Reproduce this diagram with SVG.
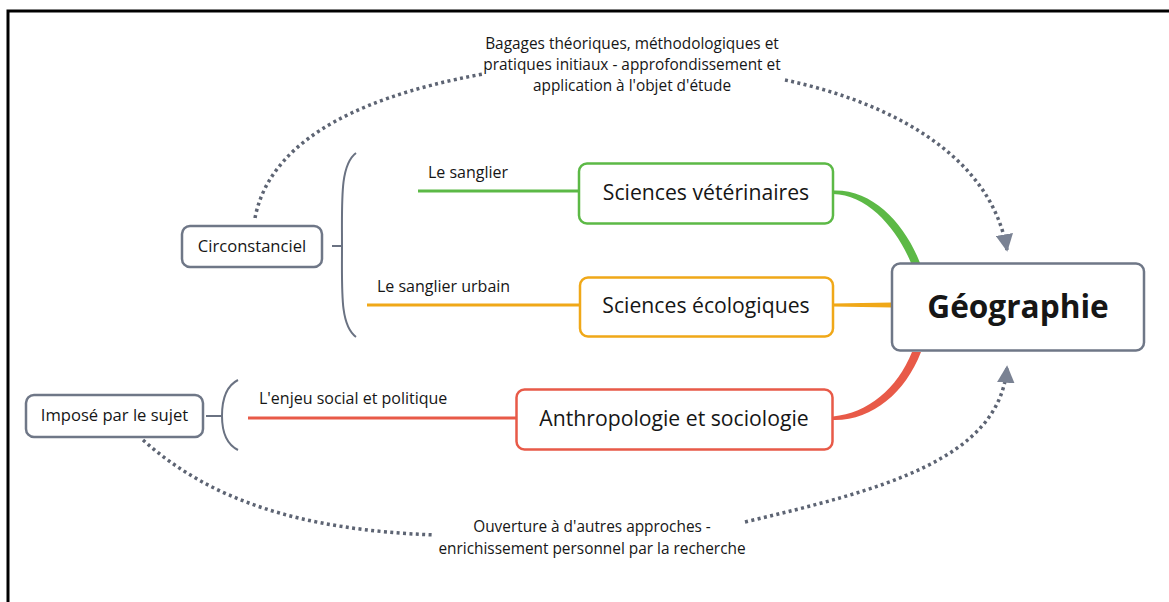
<svg xmlns="http://www.w3.org/2000/svg" width="1169" height="602" viewBox="0 0 1169 602">
<defs>
<style>
.t{font-family:"Open Sans","Liberation Sans",sans-serif;fill:#161616}
.lbl{font-size:15.4px}
.br{font-size:16px}
.sm{font-size:16.6px}
.big{font-size:21.2px}
.box{fill:#fff;stroke-width:2.5}
.gray{stroke:#6f7787}
.dot{fill:none;stroke:#5d6473;stroke-width:3.5;stroke-dasharray:3 3.4}
.brace{fill:none;stroke:#6a7282;stroke-width:2}
</style>
<marker id="arr" viewBox="0 0 10 10" refX="9" refY="5" markerWidth="5" markerHeight="5" orient="auto" markerUnits="strokeWidth">
<path d="M0,0 L10,5 L0,10 Z" fill="#7a8293"/>
</marker>
</defs>
<rect x="0" y="0" width="1169" height="602" fill="#fff"/>
<path d="M8,602 V11 H1169" fill="none" stroke="#000" stroke-width="3"/>

<g id="connectors">
<path d="M418,191 H580" stroke="#5cb946" stroke-width="3" fill="none"/>
<path d="M367,305 H581" stroke="#f0a818" stroke-width="3" fill="none"/>
<path d="M248,418 H516" stroke="#e85a48" stroke-width="3" fill="none"/>
<path d="M833,190.5 C873,189 905,224 920,263 L911,263 C897,229 868,194.5 833,194 Z" fill="#5cb946"/>
<path d="M833,303.5 L892,302.5 L892,307.5 L833,306.5 Z" fill="#f0a818"/>
<path d="M833,416.5 C868,413 897,389 912,352 L921,352 C905,393 872,421 833,420 Z" fill="#e85a48"/>
<path d="M332,246 H342" class="brace"/>
<path d="M356,153 C340,165 342,200 342,246 C342,292 340,325 356,337" class="brace"/>
<path d="M206,416 H221" class="brace"/>
<path d="M238,380 C226,386 222,400 222,416 C222,432 226,444 238,450" class="brace"/>
<path d="M255,218 C268,150 340,100 483,74" class="dot"/>
<path d="M785,80 C880,100 990,150 1007,250" class="dot" marker-end="url(#arr)"/>
<path d="M143,440 C210,500 300,530 435,535" class="dot"/>
<path d="M745,522 C880,490 1000,460 1007,367" class="dot" marker-end="url(#arr)"/>
</g>

<g id="label-top">
<text class="t lbl" text-anchor="middle" x="632" y="49">Bagages théoriques, méthodologiques et</text>
<text class="t lbl" text-anchor="middle" x="632" y="70">pratiques initiaux - approfondissement et</text>
<text class="t lbl" text-anchor="middle" x="632" y="91">application à l'objet d'étude</text>
</g>
<g id="label-bottom">
<text class="t lbl" text-anchor="middle" x="592" y="532">Ouverture à d'autres approches -</text>
<text class="t lbl" text-anchor="middle" x="592" y="554">enrichissement personnel par la recherche</text>
</g>
<g id="label-sanglier"><text class="t br" x="428" y="178">Le sanglier</text></g>
<g id="label-urbain"><text class="t br" x="377" y="292">Le sanglier urbain</text></g>
<g id="label-enjeu"><text class="t br" x="259" y="404">L'enjeu social et politique</text></g>

<g id="circonstanciel">
<rect x="182" y="226" width="140" height="41" rx="8" class="box gray"/>
<text class="t sm" text-anchor="middle" x="252" y="252">Circonstanciel</text>
</g>
<g id="impose">
<rect x="26" y="395" width="177" height="42" rx="8" class="box gray"/>
<text class="t sm" text-anchor="middle" x="114.5" y="421">Imposé par le sujet</text>
</g>
<g id="veterinaires">
<rect x="579" y="163.5" width="254" height="60" rx="8" class="box" stroke="#5cb946" stroke-width="3"/>
<text class="t big" text-anchor="middle" x="706" y="200">Sciences vétérinaires</text>
</g>
<g id="ecologiques">
<rect x="580" y="277.5" width="253" height="59" rx="8" class="box" stroke="#f0a818" stroke-width="3"/>
<text class="t big" text-anchor="middle" x="706" y="313">Sciences écologiques</text>
</g>
<g id="anthropologie">
<rect x="516.5" y="389.5" width="316" height="60" rx="8" class="box" stroke="#e85a48" stroke-width="3"/>
<text class="t big" text-anchor="middle" x="674" y="426">Anthropologie et sociologie</text>
</g>
<g id="geographie">
<rect x="892" y="263.5" width="252" height="87" rx="8" class="box" stroke="#6f7787" stroke-width="3"/>
<text class="t" text-anchor="middle" x="1018" y="318" font-size="31.6" font-weight="bold">Géographie</text>
</g>
</svg>
